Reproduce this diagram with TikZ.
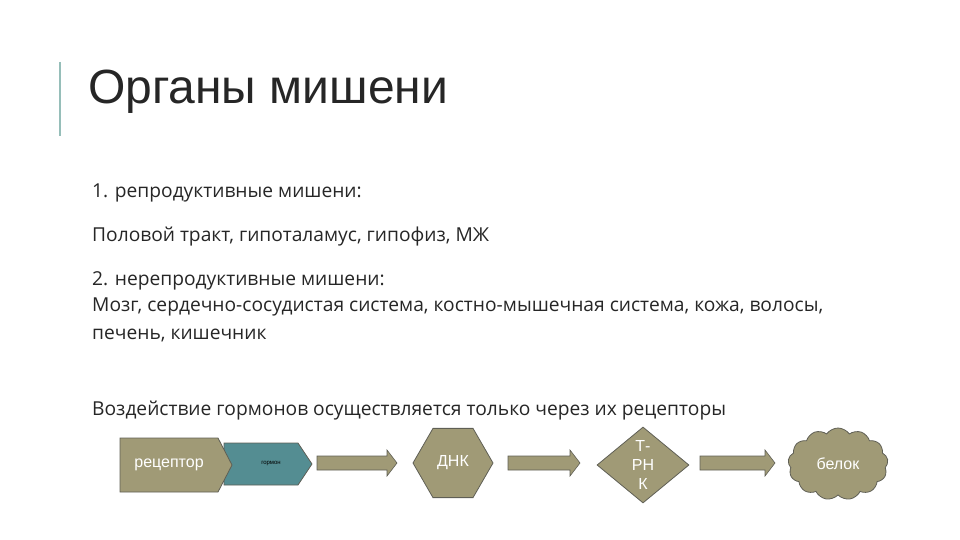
\documentclass[tikz,border=0pt]{standalone}
\usepackage{fontspec}
\setmainfont{Open Sans}
\newfontfamily\arial{Liberation Sans}
\usetikzlibrary{shapes.geometric,shapes.symbols}
\definecolor{olive}{RGB}{160,154,118}
\definecolor{tealc}{RGB}{84,141,146}
\definecolor{edge}{RGB}{95,95,85}
\definecolor{barc}{RGB}{150,190,185}
\begin{document}
\begin{tikzpicture}[x=1pt,y=-1pt,
  body/.style={anchor=base west,inner sep=0pt,font=\fontsize{19.2}{22}\selectfont,text=black!85},
  blk/.style={fill=olive,draw=edge,line width=0.8pt},
  barrow/.style={fill=olive,draw=edge,line width=0.6pt}]
\useasboundingbox (0,0) rectangle (960,540);
\draw[barc,line width=1.5pt] (60,62) coordinate (b1) -- (60,136) coordinate (b2);
\node[anchor=base west,inner sep=0pt,font=\arial\fontsize{48}{52}\selectfont,text=black!85] (title) at (88,104) {Органы мишени};
\node[body] (l1) at (92,197) {1. репродуктивные мишени:};
\node[body] (l2) at (92,241) {Половой тракт, гипоталамус, гипофиз, МЖ};
\node[body] (l3) at (92,285) {2. нерепродуктивные мишени:};
\node[body] (l4) at (92,311) {Мозг, сердечно-сосудистая система, костно-мышечная система, кожа, волосы,};
\node[body] (l5) at (92,339) {печень, кишечник};
\node[body] (l6) at (92,415) {Воздействие гормонов осуществляется только через их рецепторы};
% diagram
\draw[fill=tealc,draw=edge,line width=0.8pt] (224,443) -- (298,443) -- (312,464) -- (298,485) -- (224,485) -- cycle;
\draw[blk] (120,438) -- (218,438) -- (232,465) -- (218,492) -- (120,492) -- cycle;
\node[font=\arial\fontsize{16}{18}\selectfont,text=white] (rec) at (169,465) {рецептор};
\node[regular polygon,regular polygon sides=6,blk,minimum size=80pt,inner sep=0pt,font=\arial\fontsize{16}{18}\selectfont,text=white] (dna) at (453,463) {ДНК};
\node[font=\arial\fontsize{6}{7}\selectfont,text=black] (horm) at (271,464) {гормон};
\node[diamond,blk,minimum width=92pt,minimum height=76pt,inner sep=0pt,align=center,font=\arial\fontsize{16}{19}\selectfont,text=white] (trnk) at (643,465) {Т-\\РН\\К};
\node[cloud,cloud puffs=13,cloud puff arc=110,aspect=1.3,blk,minimum width=100pt,minimum height=72pt,inner sep=0pt,font=\arial\fontsize{16}{18}\selectfont,text=white] (prot) at (838,464) {белок};
\foreach \n/\s/\e in {ar1/317/397, ar2/508/580, ar3/700/775}{
  \draw[barrow] (\s,456) -- (\e-10,456) -- (\e-10,450) -- (\e,463) -- (\e-10,476) -- (\e-10,470) -- (\s,470) -- cycle;
}
\end{tikzpicture}
\end{document}
